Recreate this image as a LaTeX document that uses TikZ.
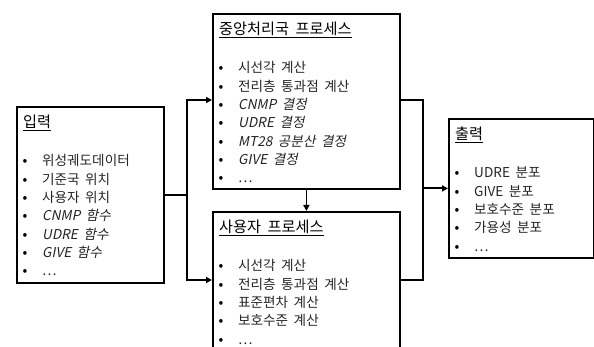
\documentclass[tikz,border=0pt]{standalone}
\usepackage{fontspec}
\setmainfont{Noto Sans CJK KR}[AutoFakeSlant=0.2]
\usetikzlibrary{arrows.meta}
\newcommand\itemfont{\fontsize{13.6}{15}\selectfont\spaceskip 5.5pt\relax}
\newcommand\titlefont{\fontsize{15.2}{16}\selectfont\spaceskip 6.5pt\relax}
\newcommand\fillbox[3]{%
  \node[ttl] (#1-t) at ([shift={(7,-22)}]#1.north west) {\underline{#2}};
  \foreach \itm [count=\k] in {#3} {
    \node[bul] (#1-b\k) at ([shift={(9,{-60-18.3*(\k-1)})}]#1.north west) {•};
    \node[txt] (#1-i\k) at ([shift={(26,{-60-18.3*(\k-1)})}]#1.north west) {\itm};
  }
}
\begin{document}
\begin{tikzpicture}[x=1pt,y=1pt,
  frame/.style={draw, line width=1.8pt, inner sep=0pt, anchor=north west},
  conn/.style={line width=1.8pt},
  arr/.style={line width=1.8pt, -{Triangle[length=6pt,width=6pt]}},
  txt/.style={anchor=base west, inner sep=0pt, text=black!85, font=\itemfont},
  ttl/.style={anchor=base west, inner sep=0pt, text=black, font=\titlefont},
  bul/.style={anchor=base, inner sep=0pt, text=black, font=\fontsize{14}{15}\selectfont}]
\clip (0,0) rectangle (594,-347);
\fill[white] (0,0) rectangle (594,-347);
% boxes
\node[frame, minimum width=147pt, minimum height=176pt] (in) at (16,-106) {};
\node[frame, minimum width=187pt, minimum height=175pt] (cp) at (212,-13) {};
\node[frame, minimum width=187pt, minimum height=142pt] (up) at (212,-211) {};
\node[frame, minimum width=145pt, minimum height=139pt] (out) at (448,-118) {};
% texts
\fillbox{in}{입력}{위성궤도데이터, 기준국 위치, 사용자 위치, {\itshape CNMP 함수}, {\itshape UDRE 함수}, {\itshape GIVE 함수}, …}
\fillbox{cp}{중앙처리국 프로세스}{시선각 계산, 전리층 통과점 계산, {\itshape CNMP 결정}, {\itshape UDRE 결정}, {\itshape MT28 공분산 결정}, {\itshape GIVE 결정}, …}
\fillbox{up}{사용자 프로세스}{시선각 계산, 전리층 통과점 계산, 표준편차 계산, 보호수준 계산, …}
\fillbox{out}{출력}{UDRE 분포, GIVE 분포, 보호수준 분포, 가용성 분포, …}
% connectors
\coordinate (jt) at (187,-100);
\coordinate (jb) at (187,-280);
\coordinate (rt) at (423,-100);
\coordinate (rb) at (423,-280);
\draw[conn] (in.east) -- (in.east -| jt);
\draw[conn, line cap=rect] (jt) -- (jb);
\draw[arr] (jt) -- (jt -| cp.west);
\draw[arr] (jb) -- (jb -| up.west);
\draw[conn] (rt -| cp.east) -- (rt) -- (rb) -- (rb -| up.east);
\draw[arr] (out.west -| rt) -- (out.west);
\draw[arr] (cp.south) -- (up.north);
\end{tikzpicture}
\end{document}
